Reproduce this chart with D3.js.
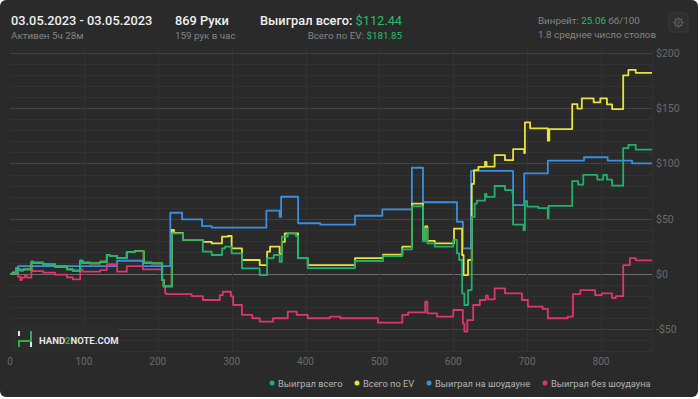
<!DOCTYPE html>
<html>
<head>
<meta charset="utf-8">
<script src="https://cdn.jsdelivr.net/npm/d3@7"></script>
<style>
  body { margin: 0; background: #ffffff; }
  svg { display: block; font-family: Roboto, "Noto Sans", sans-serif; }
</style>
</head>
<body>
<div id="chart"></div>
<script>
// [hand, dollars] points where the value changes (drawn as steps)
var totalWon = [[0,0],[3,0.6],[8,5.1],[10,0.6],[11,4.2],[14,3.3],[18,4.2],[29,11.1],[31,10.2],[45,8.7],[61,6.6],[77,4.2],[85,3.0],[95,12.0],[98,10.2],[108,9.6],[122,11.1],[131,17.2],[135,16.3],[145,14.3],[158,19.9],[169,20.8],[181,10.2],[192,9.6],[206,-5.4],[208,-11.2],[219,36.8],[234,30.8],[261,20.2],[273,17.2],[287,23.2],[291,24.7],[300,18.7],[314,5.1],[338,-0.9],[348,14.3],[357,17.2],[365,11.1],[368,33.8],[376,36.8],[387,34.4],[390,14.5],[403,5.4],[467,11.8],[505,16.3],[531,22.3],[544,61.1],[559,29.5],[562,41.0],[565,27.7],[575,24.7],[600,30.8],[605,18.7],[608,12.7],[612,-17.5],[615,-28.0],[620,-14.5],[625,51.6],[629,63.6],[632,66.3],[643,72.4],[645,69.8],[656,79.6],[670,75.9],[680,73.0],[681,44.6],[695,39.8],[697,66.0],[700,61.0],[715,59.6],[728,50.5],[729,61.6],[761,84.1],[769,80.8],[776,89.6],[795,85.4],[803,89.6],[808,85.4],[815,79.9],[830,113.8],[837,116.8],[847,112.44],[869,112.44]];

var totalEV = [[0,0],[3,0.6],[8,5.1],[10,0.6],[11,4.2],[14,3.3],[18,4.2],[29,11.1],[31,10.2],[45,8.7],[61,6.6],[77,4.2],[85,3.0],[95,12.0],[98,10.2],[108,9.6],[122,11.1],[131,17.2],[135,16.3],[145,14.3],[158,19.9],[169,20.8],[181,10.2],[192,9.6],[206,-5.4],[208,-11.2],[219,39.8],[222,37.3],[234,30.8],[261,29.0],[273,27.7],[287,33.8],[295,34.4],[300,23.2],[314,12.7],[338,8.1],[348,20.2],[352,24.7],[365,18.0],[368,29.0],[372,36.8],[390,14.3],[403,8.1],[467,14.3],[505,17.5],[531,24.7],[544,63.6],[559,32.0],[562,43.0],[565,29.9],[575,27.7],[601,41.0],[612,17.2],[614,-0.9],[620,12.7],[625,81.5],[628,94.0],[634,96.9],[643,101.5],[645,97.2],[656,107.5],[670,103.0],[681,112.9],[696,109.4],[697,137.2],[704,131.8],[728,120.6],[730,131.1],[761,153.6],[768,149.6],[774,158.8],[790,155.3],[799,158.8],[808,153.4],[815,149.2],[830,179.7],[837,184.6],[847,181.85],[869,181.85]];

var showdownWon = [[0,0],[4,1.8],[11,7.2],[145,12.0],[180,7.2],[217,55.4],[233,49.5],[260,43.4],[273,41.9],[347,57.3],[365,51.6],[367,69.9],[390,45.9],[420,44.6],[467,52.7],[504,58.5],[544,96.1],[559,64.9],[605,47.3],[613,23.2],[624,93.2],[681,62.4],[696,91.1],[728,102.5],[777,105.6],[809,102.5],[842,100.0],[869,100.0]];

var nonShowdownWon = [[0,0],[7,0],[11,-2.4],[14,-5.4],[16,-3.3],[20,-1.5],[23,-3.3],[29,3.6],[31,2.7],[45,1.2],[61,-0.6],[77,-3.0],[85,-4.8],[95,4.2],[98,2.1],[122,3.6],[131,9.0],[145,2.1],[158,7.2],[180,4.2],[206,-5.4],[208,-11.2],[210,-17.5],[212,-18.1],[246,-19.9],[261,-23.5],[284,-19.0],[288,-16.0],[299,-20.2],[302,-28.0],[314,-37.0],[328,-40.0],[338,-43.1],[356,-40.0],[376,-34.0],[388,-37.0],[403,-40.0],[433,-38.5],[447,-40.0],[498,-44.0],[531,-37.0],[539,-34.6],[562,-25.0],[565,-35.5],[578,-38.5],[600,-32.5],[613,-44.8],[615,-52.0],[619,-41.6],[627,-28.0],[636,-23.5],[644,-19.6],[647,-22.9],[656,-13.0],[670,-17.5],[693,-23.5],[701,-29.5],[721,-31.5],[728,-40.0],[755,-38.5],[762,-18.1],[772,-14.5],[792,-19.0],[801,-17.5],[815,-21.7],[820,-20.0],[830,8.1],[839,14.3],[847,12.44],[869,12.44]];

var seriesNames = ["Выиграл всего", "Всего по EV", "Выиграл на шоудауне", "Выиграл без шоудауна"];
var seriesColors = ["#1fb26c", "#e8e43a", "#3b8fe2", "#e0356e"];
var xTicks = [0, 100, 200, 300, 400, 500, 600, 700, 800];
var yTicks = [-50, 0, 50, 100, 150, 200];

var width = 700, height = 399;
var svg = d3.select("#chart").append("svg")
    .attr("width", width)
    .attr("height", height);

// card background
svg.append("rect")
    .attr("x", 0).attr("y", 0)
    .attr("width", 698).attr("height", 397)
    .attr("rx", 6)
    .attr("fill", "#2a2a2a");

var x = d3.scaleLinear().domain([0, 869]).range([10, 652]);
var y = d3.scaleLinear().domain([-70.5, 206.2]).range([352, 46]);

// grid: minor every $10, major every $50
var minor = d3.range(-70, 201, 10);
svg.append("g").selectAll("line")
    .data(minor)
    .enter().append("line")
    .attr("x1", 10).attr("x2", x(869))
    .attr("y1", d => Math.round(y(d)) + 0.5)
    .attr("y2", d => Math.round(y(d)) + 0.5)
    .attr("stroke", d => d == 0 ? "#6e6e6e" : (d % 50 == 0 ? "#414141" : "#323232"))
    .attr("stroke-width", 1);

svg.append("g").selectAll("line")
    .data(xTicks.slice(1).concat([869]))
    .enter().append("line")
    .attr("x1", d => Math.round(x(d)) + 0.5)
    .attr("x2", d => Math.round(x(d)) + 0.5)
    .attr("y1", y(206.2)).attr("y2", y(-70.5))
    .attr("stroke", "#333333");

// logo box bottom left
var logo = svg.append("g");
logo.append("rect")
    .attr("x", 10).attr("y", 326)
    .attr("width", 108).attr("height", 26)
    .attr("fill", "#2c2c2c");
logo.append("path")
    .attr("d", "M19,331V336 M31,342V347")
    .attr("stroke", "#e6e6e6").attr("stroke-width", 2).attr("fill", "none");
logo.append("path")
    .attr("d", "M19,347V341H31V331")
    .attr("stroke", "#2fae4a").attr("stroke-width", 2).attr("fill", "none");
var logoText = logo.append("text")
    .attr("x", 39).attr("y", 343.5)
    .attr("font-size", 9.5).attr("font-weight", 700)
    .attr("fill", "#e6e6e6");
logoText.append("tspan").text("HAND");
logoText.append("tspan").attr("fill", "#2fae4a").text("2");
logoText.append("tspan").text("NOTE.COM");

// lines
var line = d3.line()
    .x(d => x(d[0]))
    .y(d => y(d[1]))
    .curve(d3.curveStepAfter);

var drawOrder = [[showdownWon, 2], [nonShowdownWon, 3], [totalEV, 1], [totalWon, 0]];
drawOrder.forEach(function (s) {
    svg.append("path")
        .datum(s[0])
        .attr("d", line)
        .attr("fill", "none")
        .attr("stroke", seriesColors[s[1]])
        .attr("stroke-width", 1.8)
        .attr("stroke-linejoin", "round");
});

// axis labels
svg.append("g").selectAll("text")
    .data(yTicks)
    .enter().append("text")
    .attr("x", 656)
    .attr("y", d => y(d) + 4)
    .attr("font-size", 10.5)
    .attr("fill", "#6a6a6a")
    .text(d => (d < 0 ? "-$" : "$") + Math.abs(d));

svg.append("g").selectAll("text")
    .data(xTicks)
    .enter().append("text")
    .attr("x", d => x(d))
    .attr("y", 365)
    .attr("text-anchor", "middle")
    .attr("font-size", 10)
    .attr("fill", "#6a6a6a")
    .text(d => d);

// legend
var legendX = [272, 357, 429, 545];
var legend = svg.append("g").selectAll("g")
    .data(seriesNames)
    .enter().append("g")
    .attr("transform", (d, i) => "translate(" + legendX[i] + ",383)");
legend.append("circle")
    .attr("r", 2.5)
    .attr("fill", (d, i) => seriesColors[i]);
legend.append("text")
    .attr("x", 6).attr("y", 3.5)
    .attr("font-size", 9.3)
    .attr("fill", "#b4b4b4")
    .text(d => d);

// header
function headText(xp, yp, size, weight, color, anchor) {
    return svg.append("text")
        .attr("x", xp).attr("y", yp)
        .attr("font-size", size)
        .attr("font-weight", weight)
        .attr("fill", color)
        .attr("text-anchor", anchor || "start");
}
headText(11, 25, 12.8, 500, "#f0f0f0").text("03.05.2023 - 03.05.2023");
headText(11, 39, 9.8, 400, "#858585").text("Активен 5ч 28м");
headText(175, 25, 12.8, 500, "#f0f0f0").text("869 Руки");
headText(175, 39, 9.8, 400, "#858585").text("159 рук в час");
var won = headText(260, 25, 12.8, 500, "#f0f0f0");
won.append("tspan").text("Выиграл всего: ");
won.append("tspan").attr("fill", "#27bf6e").attr("font-weight", 400).text("$112.44");
var ev = headText(402, 39, 9.8, 400, "#858585", "end");
ev.append("tspan").text("Всего по EV: ");
ev.append("tspan").attr("fill", "#27bf6e").text("$181.85");
var wr = headText(538, 24, 9.8, 400, "#858585");
wr.append("tspan").text("Винрейт: ");
wr.append("tspan").attr("fill", "#27bf6e").text("25.06");
wr.append("tspan").text(" бб/100");
headText(538, 38, 9.8, 400, "#858585").text("1.8 среднее число столов");

// settings button
var gear = svg.append("g").attr("transform", "translate(678.5,22.5)");
gear.append("rect")
    .attr("x", -9.5).attr("y", -9.5)
    .attr("width", 19).attr("height", 19)
    .attr("rx", 3)
    .attr("fill", "#2e2e2e")
    .attr("stroke", "#3a3a3a");
gear.selectAll("line")
    .data(d3.range(8))
    .enter().append("line")
    .attr("x1", d => 3 * Math.cos(d * Math.PI / 4))
    .attr("y1", d => 3 * Math.sin(d * Math.PI / 4))
    .attr("x2", d => 5.2 * Math.cos(d * Math.PI / 4))
    .attr("y2", d => 5.2 * Math.sin(d * Math.PI / 4))
    .attr("stroke", "#5c5c5c").attr("stroke-width", 1.6);
gear.append("circle").attr("r", 3.6).attr("fill", "none").attr("stroke", "#5c5c5c").attr("stroke-width", 1.1);
gear.append("circle").attr("r", 1.4).attr("fill", "none").attr("stroke", "#5c5c5c").attr("stroke-width", 0.9);
</script>
</body>
</html>
